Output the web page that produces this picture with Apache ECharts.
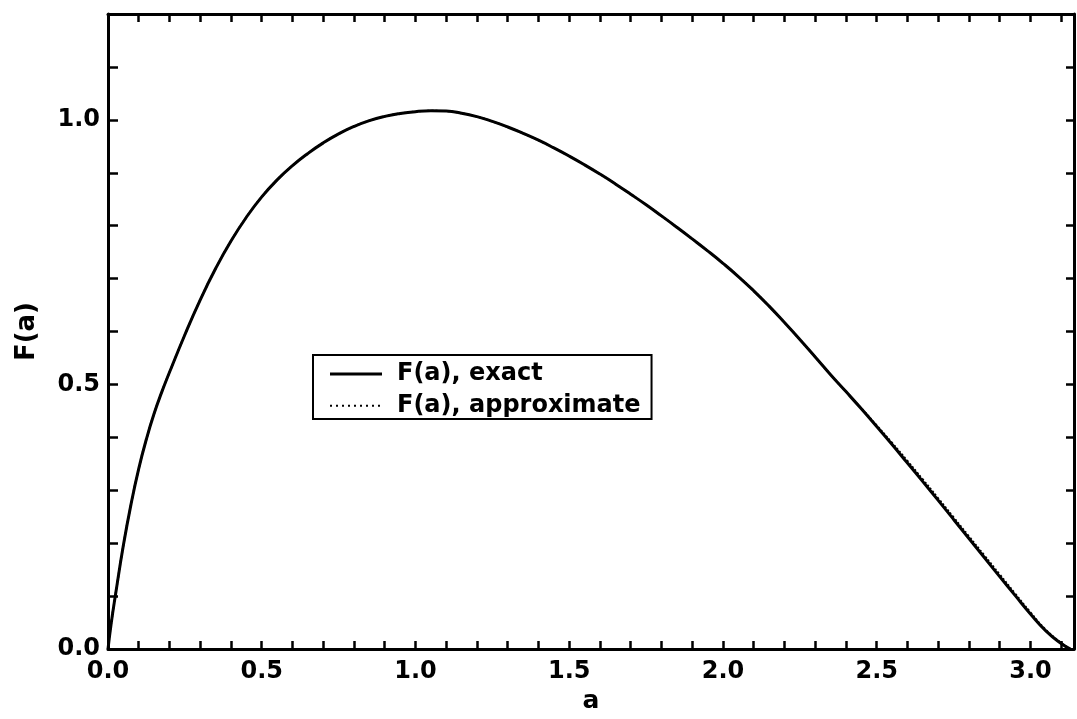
<!DOCTYPE html>
<html>
<head>
<meta charset="utf-8">
<script src="https://cdn.jsdelivr.net/npm/echarts@6/dist/echarts.min.js"></script>
<style>
html,body{margin:0;padding:0;background:#fff;}
#c{width:1077px;height:719px;}
</style>
</head>
<body>
<div id="c"></div>
<script>
// Data
const aValues = [0, 0.01, 0.025, 0.05, 0.075, 0.10, 0.125, 0.15, 0.175, 0.20, 0.25, 0.30, 0.35, 0.40, 0.45, 0.50, 0.55, 0.60, 0.65, 0.70, 0.75, 0.80, 0.85, 0.90, 0.95, 1.00, 1.05, 1.10, 1.15, 1.20, 1.25, 1.30, 1.35, 1.40, 1.45, 1.50, 1.55, 1.60, 1.65, 1.70, 1.75, 1.80, 1.85, 1.90, 1.95, 2.00, 2.05, 2.10, 2.15, 2.20, 2.25, 2.30, 2.35, 2.40, 2.45, 2.50, 2.55, 2.60, 2.65, 2.70, 2.75, 2.80, 2.85, 2.90, 2.95, 3.00, 3.05, 3.10, 3.13];
const exactValues = [0, 0.047, 0.105, 0.196, 0.274, 0.341, 0.397, 0.445, 0.486, 0.523, 0.594, 0.660, 0.719, 0.771, 0.816, 0.8545, 0.8865, 0.9135, 0.9365, 0.9565, 0.9735, 0.9875, 0.9985, 1.0065, 1.012, 1.0155, 1.017, 1.0165, 1.0125, 1.006, 0.997, 0.9865, 0.9745, 0.9615, 0.947, 0.9315, 0.915, 0.8975, 0.879, 0.8595, 0.8395, 0.8185, 0.797, 0.775, 0.7525, 0.729, 0.704, 0.677, 0.648, 0.617, 0.585, 0.552, 0.5185, 0.4865, 0.454, 0.4205, 0.3865, 0.3515, 0.3165, 0.281, 0.245, 0.209, 0.173, 0.137, 0.1015, 0.0665, 0.0345, 0.0105, 0];
const approxValues = [0, 0.047, 0.105, 0.196, 0.274, 0.341, 0.397, 0.445, 0.486, 0.523, 0.594, 0.660, 0.719, 0.771, 0.816, 0.8545, 0.8865, 0.9135, 0.9365, 0.9565, 0.9735, 0.9875, 0.9985, 1.0065, 1.012, 1.0155, 1.017, 1.0165, 1.0125, 1.006, 0.997, 0.9865, 0.9745, 0.9615, 0.947, 0.9315, 0.915, 0.8975, 0.879, 0.8595, 0.8395, 0.8185, 0.797, 0.775, 0.7525, 0.729, 0.704, 0.677, 0.648, 0.617, 0.585, 0.552, 0.5185, 0.4865, 0.455, 0.4225, 0.3895, 0.3555, 0.3205, 0.285, 0.249, 0.213, 0.177, 0.141, 0.1050, 0.0695, 0.0365, 0.0115, 0];
const seriesNames = ['F(a), exact', 'F(a), approximate'];
const xLabelTicks = [0, 0.5, 1.0, 1.5, 2.0, 2.5, 3.0];
const yLabelTicks = [0, 0.5, 1.0];
const xName = 'a';
const yName = 'F(a)';

const FONT = 'DejaVu Sans';
function isLabel(v, list){ return list.some(t => Math.abs(t - v) < 1e-6); }

// legend icons: a solid bar and a row of small dots
const solidIcon = 'path://M0,0H52V3H0Z';
let dotParts = [];
for (let x = 0; x <= 49; x += 6) dotParts.push('M' + x + ',0.25h2v2h-2z');
dotParts.push('M0,0h0.01v0.01h-0.01z M52,3h0.01v0.01h-0.01z');
const dottedIcon = 'path://' + dotParts.join(' ');

const axisLineStyle = {color:'#000', width:3};
const tickStyle = {color:'#000', width:2.5};

const chart = echarts.init(document.getElementById('c'), null, {renderer:'canvas'});
chart.setOption({
  animation:false,
  backgroundColor:'#fff',
  grid:{left:108, top:14, width:972, height:640, containLabel:false},
  legend:{
    orient:'vertical',
    left:313, top:355,
    backgroundColor:'#fff',
    borderColor:'#000', borderWidth:2,
    padding:[7, 11, 1, 17],
    itemGap:8,
    itemWidth:52, itemHeight:20,
    data:[{name:seriesNames[0], icon:solidIcon}, {name:seriesNames[1], icon:dottedIcon}],
    textStyle:{fontFamily:FONT, fontWeight:'bold', fontSize:24, color:'#000', padding:[0,0,0,10], lineHeight:24}
  },
  xAxis:[{
    type:'value', min:0, max:Math.PI, interval:0.1, position:'bottom',
    name:xName, nameLocation:'middle', nameGap:36,
    nameTextStyle:{fontFamily:FONT, fontWeight:'bold', fontSize:25, color:'#000'},
    axisLine:{show:true, onZero:false, lineStyle:axisLineStyle},
    axisTick:{show:true, inside:true, length:8, lineStyle:tickStyle},
    splitLine:{show:false},
    axisLabel:{interval:0, margin:11, fontFamily:FONT, fontWeight:'bold', fontSize:24, color:'#000',
      formatter:v => isLabel(v, xLabelTicks) ? v.toFixed(1) : ''}
  },{
    type:'value', min:0, max:Math.PI, interval:0.1, position:'top',
    axisLine:{show:true, onZero:false, lineStyle:axisLineStyle},
    axisTick:{show:true, inside:true, length:8, lineStyle:tickStyle},
    splitLine:{show:false}, axisLabel:{show:false}
  }],
  yAxis:[{
    type:'value', min:0, max:1.2, interval:0.1, position:'left',
    name:yName, nameLocation:'middle', nameGap:68, nameRotate:90,
    nameTextStyle:{fontFamily:FONT, fontWeight:'bold', fontSize:26, color:'#000'},
    axisLine:{show:true, onZero:false, lineStyle:axisLineStyle},
    axisTick:{show:true, inside:true, length:10, lineStyle:tickStyle},
    splitLine:{show:false},
    axisLabel:{interval:0, margin:8, fontFamily:FONT, fontWeight:'bold', fontSize:24, color:'#000',
      formatter:v => isLabel(v, yLabelTicks) ? v.toFixed(1) : ''}
  },{
    type:'value', min:0, max:1.2, interval:0.1, position:'right',
    axisLine:{show:true, onZero:false, lineStyle:axisLineStyle},
    axisTick:{show:true, inside:true, length:8, lineStyle:tickStyle},
    splitLine:{show:false}, axisLabel:{show:false}
  }],
  series:[{
    name:seriesNames[0], type:'line', smooth:true, symbol:'none',
    xAxisIndex:0, yAxisIndex:0,
    lineStyle:{color:'#000', width:3, type:'solid'},
    itemStyle:{color:'#000'},
    data:aValues.map((a,i)=>[a, exactValues[i]])
  },{
    name:seriesNames[1], type:'line', smooth:true, symbol:'none',
    xAxisIndex:0, yAxisIndex:0,
    lineStyle:{color:'#000', width:2, type:'dotted'},
    itemStyle:{color:'#000'},
    data:aValues.map((a,i)=>[a, approxValues[i]])
  }]
});
</script>
</body>
</html>
